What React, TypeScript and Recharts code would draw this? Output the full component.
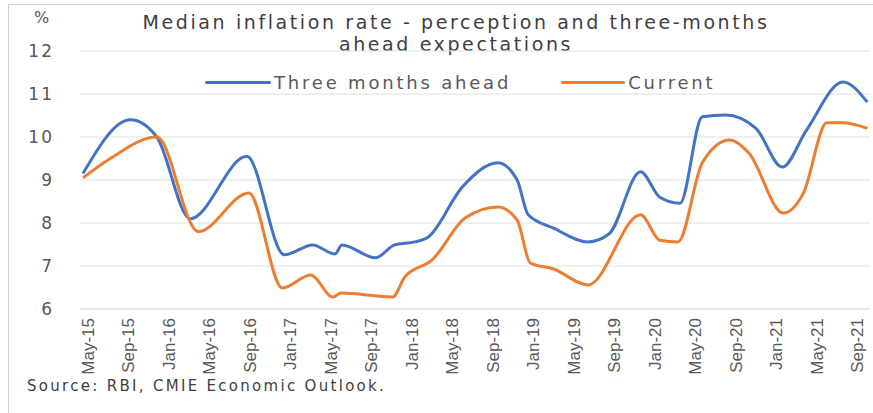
import React from "react";
import { LineChart, Line, XAxis, YAxis, CartesianGrid } from "recharts";

const tickLabels = [
  "May-15", "Sep-15", "Jan-16", "May-16", "Sep-16", "Jan-17", "May-17", "Sep-17",
  "Jan-18", "May-18", "Sep-18", "Jan-19", "May-19", "Sep-19", "Jan-20", "May-20",
  "Sep-20", "Jan-21", "May-21", "Sep-21",
];
const tickMonths = tickLabels.map((_, i) => i * 4);

// months since May-15
const aheadMonths = [-0.5, 4.2, 6.8, 10.1, 15.7, 19.4, 22.2, 24.4, 25.1, 28.4, 30.3, 32.3, 33.6, 37.0, 40.5, 42.4, 43.5, 46.0, 49.4, 51.5, 54.6, 56.5, 58.5, 60.7, 63.0, 66.0, 68.6, 71.0, 74.6, 77.0];
const aheadValues = [9.15, 10.4, 10.0, 8.1, 9.55, 7.26, 7.49, 7.28, 7.49, 7.19, 7.49, 7.56, 7.67, 8.84, 9.4, 9.0, 8.19, 7.88, 7.56, 7.75, 9.19, 8.6, 8.46, 10.47, 10.51, 10.2, 9.3, 10.16, 11.28, 10.81];

const currentMonths = [-0.5, 2.2, 6.8, 10.9, 15.9, 19.2, 22.0, 24.2, 25.0, 30.1, 31.3, 34.0, 37.3, 40.5, 42.4, 43.7, 46.0, 49.4, 54.6, 56.5, 58.3, 60.7, 63.4, 65.3, 68.7, 70.7, 73.0, 74.6, 77.0];
const currentValues = [9.05, 9.5, 10.0, 7.8, 8.7, 6.49, 6.79, 6.28, 6.37, 6.28, 6.74, 7.14, 8.12, 8.37, 8.07, 7.07, 6.93, 6.56, 8.19, 7.6, 7.56, 9.4, 9.93, 9.63, 8.23, 8.7, 10.33, 10.33, 10.2];

const yTicks = [6, 7, 8, 9, 10, 11, 12];

const aheadData = aheadMonths.map((m, i) => ({ m, v: aheadValues[i] }));
const currentData = currentMonths.map((m, i) => ({ m, v: currentValues[i] }));

const BLUE = "#4472C4";
const ORANGE = "#ED7D31";
const TEXT = "#595959";
const FONT = "'DejaVu Sans', sans-serif";

const XTick = (props: any) => {
  const { x, payload } = props;
  const idx = tickMonths.indexOf(payload.value);
  const label = idx >= 0 ? tickLabels[idx] : "";
  const y = 318;
  return (
    <text
      x={x}
      y={y}
      transform={`rotate(-90, ${x}, ${y})`}
      textAnchor="end"
      dy="0.35em"
      fill={TEXT}
      fontSize={17}
      fontFamily="'Liberation Sans Narrow', 'Arial Narrow', 'Liberation Sans', sans-serif"
    >
      {label}
    </text>
  );
};

export default function App() {
  return (
    <div
      style={{
        position: "absolute",
        left: 0,
        top: 0,
        width: 873,
        height: 413,
        background: "#fff",
        fontFamily: FONT,
        overflow: "hidden",
      }}
    >
      <div
        style={{
          position: "absolute",
          left: 8,
          top: 4,
          width: 870,
          height: 410,
          border: "1px solid #d0d0d0",
          boxSizing: "border-box",
        }}
      />
      <div
        style={{
          position: "absolute",
          left: 0,
          width: 912,
          top: 11,
          textAlign: "center",
          fontSize: 19,
          lineHeight: "22px",
          color: "#404040",
          letterSpacing: 2.6,
        }}
      >
        Median inflation rate - perception and three-months
        <br />
        ahead expectations
      </div>
      <div style={{ position: "absolute", left: 34, top: 8, fontSize: 16, color: TEXT }}>%</div>

      <div style={{ position: "absolute", left: 205, top: 72, height: 20, display: "flex", alignItems: "center" }}>
        <div style={{ width: 66, height: 3, background: BLUE, borderRadius: 2 }} />
        <span style={{ marginLeft: 3, fontSize: 18, color: TEXT, letterSpacing: 2.8 }}>Three months ahead</span>
        <div style={{ width: 64, height: 3, background: ORANGE, borderRadius: 2, marginLeft: 50 }} />
        <span style={{ marginLeft: 3, fontSize: 18, color: TEXT, letterSpacing: 2.8 }}>Current</span>
      </div>

      <div
        style={{
          position: "absolute",
          left: 27,
          top: 377,
          fontSize: 15,
          color: "#404040",
          letterSpacing: 2.3,
        }}
      >
        Source: RBI, CMIE Economic Outlook.
      </div>

      <div style={{ position: "absolute", left: 0, top: 0 }}>
        <LineChart width={873} height={413} margin={{ top: 51, right: 3, bottom: 0, left: 0 }}>
          <CartesianGrid horizontal vertical={false} stroke="#e0e0e0" />
          <XAxis
            type="number"
            dataKey="m"
            domain={[-0.79, 77.27]}
            allowDataOverflow
            ticks={tickMonths}
            interval={0}
            height={104}
            tick={<XTick />}
            tickLine={false}
            axisLine={{ stroke: "#e6e6e6" }}
          />
          <YAxis
            type="number"
            domain={[6, 12]}
            ticks={yTicks}
            width={80}
            tickLine={false}
            axisLine={false}
            tickSize={0}
            tickMargin={26}
            tick={{ fontSize: 17, fill: TEXT, fontFamily: FONT, letterSpacing: 2 }}
          />
          <Line
            data={aheadData}
            dataKey="v"
            type="monotone"
            stroke={BLUE}
            strokeWidth={3}
            dot={false}
            isAnimationActive={false}
          />
          <Line
            data={currentData}
            dataKey="v"
            type="monotone"
            stroke={ORANGE}
            strokeWidth={3}
            dot={false}
            isAnimationActive={false}
          />
        </LineChart>
      </div>
    </div>
  );
}
